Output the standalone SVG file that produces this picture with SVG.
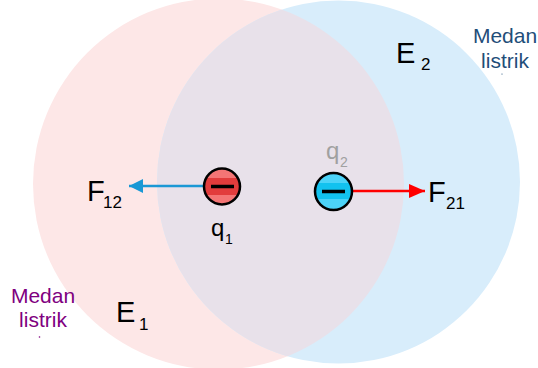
<svg xmlns="http://www.w3.org/2000/svg" width="538" height="368" viewBox="0 0 538 368">
<style>
text{font-family:"Liberation Sans",Arial,sans-serif;}
.big{font-size:29px;fill:#000;}
.sub{font-size:17px;fill:#000;}
.q{font-size:24px;}
.qs{font-size:14px;}
.lbl{font-size:21px;text-anchor:middle;}
.charge{stroke:#000;stroke-width:2.5;}
.minus{stroke:#000;stroke-width:3.5;}
</style>
<defs>
<clipPath id="clipL"><circle cx="218.5" cy="184" r="185.5"/></clipPath>
<clipPath id="clipQ1"><circle cx="222" cy="186.5" r="18"/></clipPath>
<clipPath id="clipQ2"><circle cx="333.5" cy="191.5" r="18.5"/></clipPath>
<marker id="ahBlue" viewBox="0 0 14 14" refX="14" refY="7" markerWidth="14" markerHeight="14" markerUnits="userSpaceOnUse" orient="auto"><path d="M0,0 L14,7 L0,14 Z" fill="#1a98d5"/></marker>
<marker id="ahRed" viewBox="0 0 16 14" refX="16" refY="7" markerWidth="16" markerHeight="14" markerUnits="userSpaceOnUse" orient="auto"><path d="M0,0 L16,7 L0,14 Z" fill="#ff0000"/></marker>
</defs>
<rect width="538" height="368" fill="#ffffff"/>
<g id="field-E1"><circle cx="218.5" cy="184" r="185.5" fill="#fde7e7"/></g>
<g id="field-E2"><circle cx="338.5" cy="182" r="181.5" fill="#d8edfb"/>
<circle cx="338.5" cy="182" r="181.5" fill="#e8e1ea" clip-path="url(#clipL)"/></g>
<g id="connectors">
<line x1="204" y1="186" x2="129" y2="186" stroke="#1a98d5" stroke-width="2.5" marker-end="url(#ahBlue)"/>
<line x1="352" y1="191" x2="425" y2="191" stroke="#ff0000" stroke-width="2.5" marker-end="url(#ahRed)"/>
</g>
<g id="q1">
<circle cx="222" cy="186.5" r="18" fill="#f47575"/>
<rect x="204" y="178" width="36" height="17" fill="#e23c3c" clip-path="url(#clipQ1)"/>
<circle cx="222" cy="186.5" r="18" fill="none" class="charge"/>
<line x1="211" y1="186.5" x2="234" y2="186.5" class="minus"/>
<text x="211" y="236" class="q" fill="#000">q</text><text x="225" y="244" class="qs" fill="#000">1</text>
</g>
<g id="q2">
<circle cx="333.5" cy="191.5" r="18.5" fill="#4cd3f8"/>
<rect x="315" y="183" width="37" height="16" fill="#12c2ef" clip-path="url(#clipQ2)"/>
<circle cx="333.5" cy="191.5" r="18.5" fill="none" class="charge"/>
<line x1="322" y1="191.5" x2="345" y2="191.5" class="minus"/>
<text x="326" y="159" class="q" fill="#a0a0a0">q</text><text x="340" y="167" class="qs" fill="#a0a0a0">2</text>
</g>
<g id="F12"><text x="87" y="201" class="big">F</text><text x="103" y="208" class="sub">12</text></g>
<g id="F21"><text x="428" y="202" class="big">F</text><text x="446" y="209" class="sub">21</text></g>
<g id="E1"><text x="116" y="322" class="big">E</text><text x="139" y="330" class="sub">1</text></g>
<g id="E2"><text x="396" y="63" class="big">E</text><text x="421" y="70" class="sub">2</text></g>
<g id="label-left" fill="#800080">
<text x="43" y="303" class="lbl" fill="#800080">Medan</text>
<text x="43" y="327" class="lbl" fill="#800080">listrik</text>
<circle cx="39.5" cy="337" r="0.8" fill="#800080"/>
</g>
<g id="label-right">
<text x="505" y="43" class="lbl" fill="#1f4e79">Medan</text>
<text x="505" y="68" class="lbl" fill="#1f4e79">listrik</text>
<circle cx="502" cy="74" r="0.6" fill="#1f4e79"/>
</g>
</svg>
